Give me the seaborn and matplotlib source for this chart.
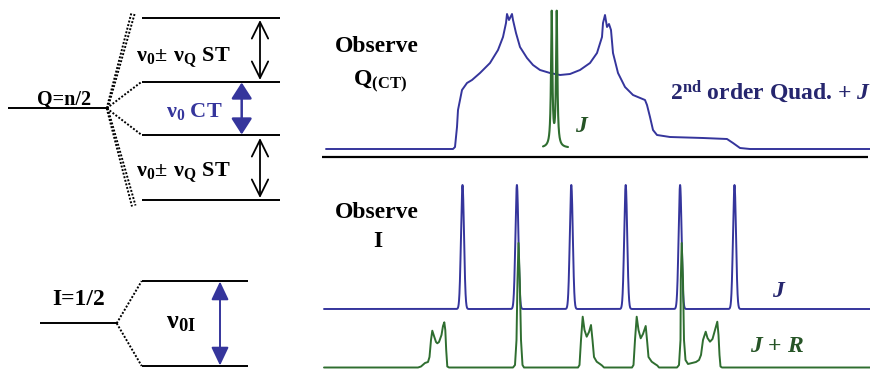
import numpy as np
import pandas as pd
import matplotlib
matplotlib.use("Agg")
import matplotlib.pyplot as plt
import seaborn as sns

sns.set_theme(style="white")
plt.rcParams['font.family'] = ['Liberation Serif', 'DejaVu Serif']
plt.rcParams['font.weight'] = 'bold'
plt.rcParams['mathtext.fontset'] = 'custom'
plt.rcParams['mathtext.rm'] = 'Liberation Serif:bold'
plt.rcParams['mathtext.it'] = 'Liberation Serif:bold:italic'
plt.rcParams['mathtext.bf'] = 'Liberation Serif:bold'

# ---------------- data ----------------
# Observe Q(CT): 2nd-order quadrupolar powder pattern (offset, intensity a.u.)
quad_freq = [-232, -105, -103, -101, -100, -96, -91, -86, -78, -68, -60, -55, -52, -51,
             -49, -46, -45, -42, -38, -31, -25, -18, -8, 2, 12, 22, 32, 39, 44, 45, 47,
             49, 51, 53, 55, 60, 67, 75, 87, 89, 92, 95, 99, 112, 145, 169, 175, 182,
             192, 312]
quad_int = [0, 0, 2, 22, 39, 59, 66, 69, 76, 86, 99, 112, 126, 135,
            129, 135, 129, 116, 102, 91, 84, 79, 76, 74, 75, 79, 86, 96, 112, 126, 134,
            122, 125, 119, 96, 76, 62, 54, 49, 44, 32, 19, 14, 12, 11, 10, 6, 1,
            0, 0]
# J doublet of the Q(CT)
qj_lines = [-6.3, -1.3]
qj_heights = [134, 134]
qj_hwhm = 0.8
qj_base = 1.0
qj_range = (-15, 10)

# Observe I: J multiplet (sextet) and J + R trace
j_lines = [-136.0, -81.6, -27.2, 27.2, 81.6, 136.0]
j_heights = [124, 124, 124, 124, 124, 124]
j_sigma = 1.5
j_offset = 58.5

jr_freq = [-274.5, -180.5, -177.5, -173.5, -170.5, -169, -167.5, -166.2, -164.5, -162.5,
           -161.2, -159.5, -157, -155.5, -154.2, -153.2, -152.3, -151.2, -149.5,
           -85.5, -83.5, -82, -81, -80, -78.7, -77.5, -76, -74.5,
           -20.5, -19, -17.5, -15.8, -14, -11.8, -9.5, -7.5, -6, -4.5, -1.8, 1.5, 3.5, 5.5,
           33.5, 35, 36.5, 38.2, 40, 42.2, 44.5, 47.2, 48.7, 50, 53.2, 56.5, 58.8, 60.5,
           78.5, 80.5, 82, 82.3, 83.2, 84.5, 85.5, 87, 89.5, 93.5, 97.5, 100.5, 102.5,
           104.5, 107.2, 109, 111.5, 114, 116.5, 118.8, 120, 121, 122, 123.5, 271.5]
jr_int = [0, 0, 1, 4.5, 5.5, 10.5, 27.5, 36.8, 31.5, 25.5,
          24.2, 25.5, 32.5, 41.5, 45.2, 37.5, 17.5, 1, 0,
          0, 2.5, 27.5, 87.5, 124.5, 87.5, 27.5, 2.5, 0,
          0, 2.5, 27.5, 50.8, 37.5, 30.8, 35.5, 42.5, 27.5, 10.5, 5.8, 3.5, 2, 0,
          0, 2.5, 27.5, 50.8, 37.5, 29.2, 33.5, 41.5, 25.5, 10.5, 5.8, 3.5, 2, 0,
          0, 2.5, 27.5, 87.5, 124.5, 87.5, 27.5, 7.5, 3.5, 4.5, 5.5, 7.5, 12.5,
          27.5, 35.8, 29.5, 25.8, 28.5, 37.5, 45.8, 32.5, 12.5, 1, 0, 0]

# energy-level schematic
q_ground_y = 108.3
q_levels_y = [18.3, 81.7, 135.0, 200.0]
i_ground_y = 323.3
i_levels_y = [281.0, 366.0]

BLUE = '#35359c'
NAVY = '#26266e'
GREEN = '#2f6e30'
GREEN_TXT = '#265426'

# ---------------- figure ----------------
W, H = 873, 373
fig = plt.figure(figsize=(W / 100, H / 100), dpi=100)
fig.patch.set_facecolor('white')

ax = fig.add_axes([0, 0, 1, 1])
ax.set_xlim(0, W)
ax.set_ylim(H, 0)
ax.axis('off')

# ---- Q = n/2 energy levels ----
ax.plot([8.3, 106.7], [q_ground_y, q_ground_y], color='black', lw=1.4, solid_capstyle='butt')
for y in q_levels_y:
    ax.plot([141.7, 280], [y, y], color='black', lw=1.4, solid_capstyle='butt')
dot = dict(color='black', lw=1.4, linestyle=(0, (1.0, 0.9)))
ax.plot([106.7, 141.7], [q_ground_y, q_levels_y[1]], **dot)
ax.plot([106.7, 141.7], [q_ground_y, q_levels_y[2]], **dot)
ax.plot([106.7, 131.5], [q_ground_y, 12.5], **dot)
ax.plot([107.7, 135.0], [q_ground_y, 12.5], **dot)
ax.plot([106.7, 132.0], [q_ground_y, 206.5], **dot)
ax.plot([107.7, 135.5], [q_ground_y, 205.5], **dot)

# ---- I = 1/2 energy levels ----
ax.plot([40, 116.7], [i_ground_y, i_ground_y], color='black', lw=1.4, solid_capstyle='butt')
for y in i_levels_y:
    ax.plot([141.7, 248.3], [y, y], color='black', lw=1.4, solid_capstyle='butt')
ax.plot([116.7, 141.7], [i_ground_y, i_levels_y[0]], **dot)
ax.plot([116.7, 141.7], [i_ground_y, i_levels_y[1]], **dot)

# ---- arrows ----
open_arrow = dict(arrowstyle='<->,head_length=0.85,head_width=0.42', color='black',
                  lw=1.3, shrinkA=0, shrinkB=0, mutation_scale=14)
ax.annotate('', xy=(260, 20), xytext=(260, 80), arrowprops=open_arrow)
ax.annotate('', xy=(260, 138), xytext=(260, 198), arrowprops=open_arrow)
ax.annotate('', xy=(241.7, 82.5), xytext=(241.7, 134.5),
            arrowprops=dict(arrowstyle='<|-|>,head_length=0.7,head_width=0.45', color=BLUE,
                            lw=1.8, shrinkA=0, shrinkB=0, mutation_scale=14))
ax.annotate('', xy=(220, 281.5), xytext=(220, 365.5),
            arrowprops=dict(arrowstyle='<|-|>,head_length=0.8,head_width=0.38', color=BLUE,
                            lw=1.4, shrinkA=0, shrinkB=0, mutation_scale=14))

# ---- left texts ----
ax.text(36.5, 104.5, 'Q=n/2', fontsize=14.5, fontweight='bold', color='black', ha='left', va='baseline')
ax.text(136, 61.7, r'$\mathrm{\nu}_{0}\!\pm\,\mathrm{\nu}_{\mathrm{Q}}$ ST', fontsize=16,
        fontweight='bold', color='black', ha='left', va='baseline')
ax.text(136, 176.7, r'$\mathrm{\nu}_{0}\!\pm\,\mathrm{\nu}_{\mathrm{Q}}$ ST', fontsize=16,
        fontweight='bold', color='black', ha='left', va='baseline')
ax.text(166, 116.7, r'$\mathrm{\nu}_{0}$ CT', fontsize=16, fontweight='bold', color=BLUE,
        ha='left', va='baseline')
ax.text(52.5, 305, 'I=1/2', fontsize=17, fontweight='bold', color='black', ha='left', va='baseline')
ax.text(166, 328, r'$\mathrm{\nu}_{\mathrm{0I}}$', fontsize=19, fontweight='bold', color='black',
        ha='left', va='baseline')

# ---- separator line ----
ax.plot([322, 868], [157, 157], color='black', lw=1.6, solid_capstyle='butt')

# ---- right texts ----
ax.text(335, 51.7, 'Observe', fontsize=17, fontweight='bold', color='black', ha='left', va='baseline')
ax.text(353, 86.5, r'Q$_{\mathrm{(CT)}}$', fontsize=17, fontweight='bold', color='black',
        ha='left', va='baseline')
ax.text(670, 99.3, r'2$^{\mathrm{nd}}$ order Quad. + $\mathit{J}$', fontsize=17, fontweight='bold',
        color=NAVY, ha='left', va='baseline')
ax.text(575, 131.7, r'$\mathit{J}$', fontsize=17, color=GREEN_TXT, ha='left', va='baseline')
ax.text(335, 218.3, 'Observe', fontsize=17, fontweight='bold', color='black', ha='left', va='baseline')
ax.text(373, 246.7, 'I', fontsize=17, fontweight='bold', color='black', ha='left', va='baseline')
ax.text(771.5, 296.7, r'$\mathit{J}$', fontsize=17, color=NAVY, ha='left', va='baseline')
ax.text(750, 351.7, r'$\mathit{J}$ + $\mathit{R}$', fontsize=17, color=GREEN_TXT, ha='left', va='baseline')

# ---------------- top spectrum axes ----------------
ax_t = fig.add_axes([323 / W, (H - 160) / H, 547 / W, 160 / H])
ax_t.set_xlim(323 - 558, 870 - 558)
ax_t.set_ylim(149 - 160, 149)
ax_t.axis('off')
ax_t.patch.set_alpha(0)

df_quad = pd.DataFrame({'freq': quad_freq, 'intensity': quad_int})
sns.lineplot(data=df_quad, x='freq', y='intensity', ax=ax_t, color=BLUE, lw=1.4,
             estimator=None, sort=False)

f_q = np.linspace(qj_range[0], qj_range[1], 1500)
i_q = np.full_like(f_q, qj_base)
for c, h in zip(qj_lines, qj_heights):
    i_q += h / (1 + ((f_q - c) / qj_hwhm) ** 2)
df_qj = pd.DataFrame({'freq': f_q, 'intensity': i_q})
sns.lineplot(data=df_qj, x='freq', y='intensity', ax=ax_t, color=GREEN, lw=1.5,
             estimator=None, sort=False)

# ---------------- bottom spectrum axes ----------------
ax_b = fig.add_axes([323 / W, 0, 547 / W, 208 / H])
ax_b.set_xlim(323 - 598.5, 870 - 598.5)
ax_b.set_ylim(367.5 - 373, 367.5 - 165)
ax_b.axis('off')
ax_b.patch.set_alpha(0)

f_j = np.linspace(-274.5, 271.5, 8000)
i_j = np.full_like(f_j, j_offset)
for c, h in zip(j_lines, j_heights):
    i_j += h * np.exp(-0.5 * ((f_j - c) / j_sigma) ** 2)
df_j = pd.DataFrame({'freq': f_j, 'intensity': i_j})
sns.lineplot(data=df_j, x='freq', y='intensity', ax=ax_b, color=BLUE, lw=1.4,
             estimator=None, sort=False)

df_jr = pd.DataFrame({'freq': jr_freq, 'intensity': jr_int})
sns.lineplot(data=df_jr, x='freq', y='intensity', ax=ax_b, color=GREEN, lw=1.4,
             estimator=None, sort=False)

for a in (ax_t, ax_b):
    leg = a.get_legend()
    if leg is not None:
        leg.remove()

fig.savefig('out.png', dpi=100, facecolor='white')
